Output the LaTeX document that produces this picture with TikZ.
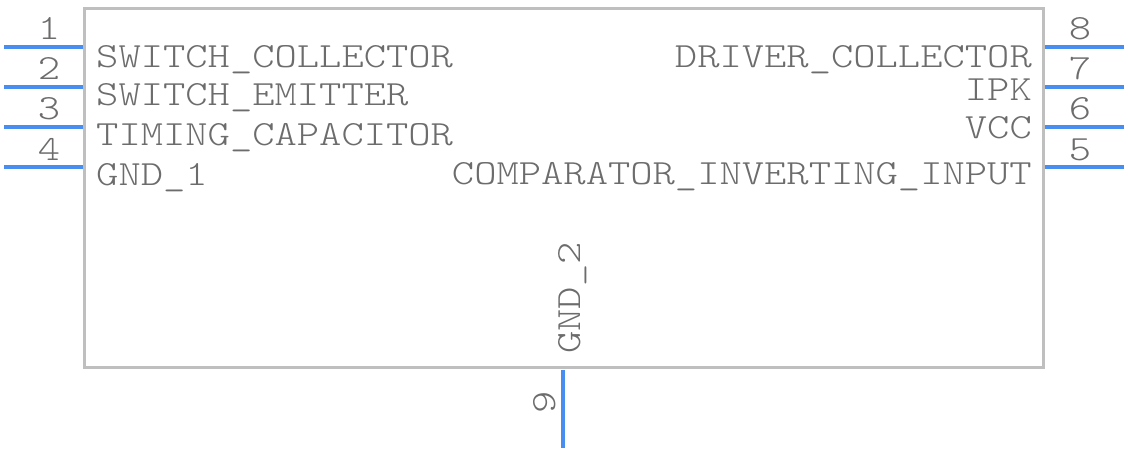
\documentclass[tikz,border=0pt]{standalone}
\usepackage{fontspec}
\setmonofont[FakeStretch=1.2]{Latin Modern Mono Light}
\definecolor{pinblue}{RGB}{72,142,240}
\definecolor{bodygray}{RGB}{191,191,191}
\definecolor{txtgray}{RGB}{108,108,108}
\begin{document}
\begin{tikzpicture}[x=1pt,y=-1pt,line cap=butt,
	pin/.style={draw=pinblue,line width=3.2pt},
	body/.style={draw=bodygray,line width=3pt},
	lbl/.style={inner sep=0pt,text=txtgray,font=\ttfamily\fontsize{35.4}{38}\selectfont}]
	\useasboundingbox (0,0) rectangle (1128,452);
	\coordinate (tl) at (84,9); \coordinate (br) at (1043,367);
	\draw[body] (tl) rectangle (br);
	% pins links
	\foreach \n/\y in {1/47,2/87,3/127,4/167}{
		\coordinate (pa\n) at (4,\y); \coordinate (pb\n) at (83,\y);
		\draw[pin] (pa\n)--(pb\n);
		\node[lbl,anchor=base] (num\n) at (49,\y-7) {\n};
	}
	% pins rechts
	\foreach \n/\y in {8/47,7/87,6/127,5/167}{
		\coordinate (pa\n) at (1045,\y); \coordinate (pb\n) at (1124,\y);
		\draw[pin] (pa\n)--(pb\n);
		\node[lbl,anchor=base] (num\n) at (1080,\y-7) {\n};
	}
	% pin unten
	\coordinate (pa9) at (563,370); \coordinate (pb9) at (563,448);
	\draw[pin] (pa9)--(pb9);
	\node[lbl,anchor=base,rotate=90] (num9) at (555,402) {9};
	% namen
	\node[lbl,anchor=base west] (swc) at (96,67) {SWITCH\_COLLECTOR};
	\node[lbl,anchor=base west] (swe) at (96,106) {SWITCH\_EMITTER};
	\node[lbl,anchor=base west] (tcap) at (96,145) {TIMING\_CAPACITOR};
	\node[lbl,anchor=base west] (gnda) at (96,185) {GND\_1};
	\node[lbl,anchor=base east] (drc) at (1032,67) {DRIVER\_COLLECTOR};
	\node[lbl,anchor=base east] (ipk) at (1032,100) {IPK};
	\node[lbl,anchor=base east] (vcc) at (1032,139) {VCC};
	\node[lbl,anchor=base east] (cin) at (1032,184) {COMPARATOR\_INVERTING\_INPUT};
	\node[lbl,anchor=base west,rotate=90] (gndb) at (580,354) {GND\_2};
\end{tikzpicture}
\end{document}
